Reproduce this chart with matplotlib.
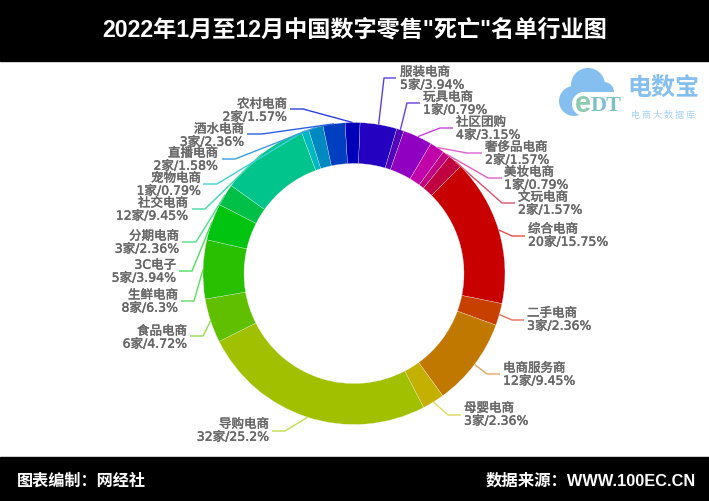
# -*- coding: utf-8 -*-
import math
import matplotlib
matplotlib.use('Agg')
import matplotlib.pyplot as plt
import matplotlib.patheffects as pe
from matplotlib.patches import Circle, Rectangle

plt.rcParams['font.family'] = ['Liberation Sans', 'Noto Sans CJK SC', 'DejaVu Sans']

names = ['服装电商', '玩具电商', '社区团购', '奢侈品电商', '美妆电商', '文玩电商', '综合电商',
         '二手电商', '电商服务商', '母婴电商', '导购电商', '食品电商', '生鲜电商', '3C电子',
         '分期电商', '社交电商', '宠物电商', '直播电商', '酒水电商', '农村电商']
counts = [5, 1, 4, 2, 1, 2, 20, 3, 12, 3, 32, 6, 8, 5, 3, 12, 1, 2, 3, 2]
shares = ['3.94', '0.79', '3.15', '1.57', '0.79', '1.57', '15.75', '2.36', '9.45', '2.36',
          '25.2', '4.72', '6.3', '3.94', '2.36', '9.45', '0.79', '1.58', '2.36', '1.57']
colors = ['#2400c0', '#5000b8', '#9000c0', '#c000a8', '#c00080', '#c00040', '#c80000',
          '#c84000', '#c07800', '#c4b000', '#a0c000', '#60c000', '#28c000', '#00c410',
          '#00c048', '#00c48c', '#00b8c0', '#0088c0', '#0040c0', '#0000b8']
line_colors = ['#5a3fe0', '#6a3fe0', '#c83fe0', '#e060d0', '#e060c0', '#e0506f', '#e04f4f',
               '#e0705a', '#e0a860', '#e0d860', '#c0dc50', '#90dc50', '#60dc60', '#50dc60',
               '#50dc88', '#40d8a8', '#40d0d8', '#3a9ee0', '#2a60e0', '#2a40e0']

# label layout, pixels: elbow x, elbow/end y, end x, text x, text y
elbow_x = [384, 407, 440, 467, 488, 502, 512, 512, 487, 448, 285, 203, 194, 192, 196, 205, 217, 235, 262, 303]
elbow_y = [79, 104, 129, 154, 179, 204, 237, 321, 375, 416, 432, 337, 302, 272, 243, 210, 185, 160, 135, 110]
end_x = [396, 420, 453, 482, 502, 515, 525, 524, 500, 461, 272, 190, 181, 179, 182, 192, 203, 222, 247, 290]
text_x = [400, 423, 456, 485, 504, 518, 528, 527, 503, 464, 269, 187, 178, 176, 179, 188, 201, 218, 244, 287]
text_y = [78, 103, 128, 153, 178, 203, 235, 319, 374, 414, 430, 337, 301, 271, 242, 209, 184, 159, 135, 110]

cx, cy = 354, 274.5
radius = 151
ring = 41

fig = plt.figure(figsize=(7.09, 5.02), dpi=100)
ax = fig.add_axes([0, 0, 1, 1])

# y axis is flipped below, so angles run clockwise on screen
wedges, _ = ax.pie(counts, colors=colors, center=(cx, cy), radius=radius, startangle=-87.7,
                   counterclock=True, frame=True,
                   wedgeprops=dict(width=ring, edgecolor='#f4f4f4', linewidth=0.2))

ax.set_xlim(0, 709)
ax.set_ylim(502, 0)
ax.set_aspect('equal')
ax.axis('off')

label_font = ['DejaVu Sans', 'Noto Sans CJK SC']
for i, w in enumerate(wedges):
    ang = math.radians((w.theta1 + w.theta2) / 2)
    x0 = cx + radius * math.cos(ang)
    y0 = cy + radius * math.sin(ang)
    ax.plot([x0, elbow_x[i], end_x[i]], [y0, elbow_y[i], elbow_y[i]],
            color=line_colors[i], lw=1.0, solid_capstyle='butt', zorder=1)
    ha = 'left' if text_x[i] > cx else 'right'
    t = ax.text(text_x[i], text_y[i] + 1.7, '%s\n%d家/%s%%' % (names[i], counts[i], shares[i]),
                ha=ha, va='center', ma=ha, fontsize=9, color='#666666', family=label_font,
                linespacing=1.0)
    # the original labels are smeared bold
    t.set_path_effects([pe.withStroke(linewidth=0.3, foreground='#666666')])

# header and footer bands
ax.add_patch(Rectangle((0, 0), 709, 62, color='black', zorder=3))
ax.add_patch(Rectangle((0, 458), 709, 44, color='black', zorder=3))
ax.text(354.5, 30, '2022年1月至12月中国数字零售"死亡"名单行业图', color='white', fontsize=16.7,
        fontweight='bold', ha='center', va='center', zorder=4)
ax.text(17, 481, '图表编制：网经社', color='white', fontsize=11.6, fontweight='bold',
        ha='left', va='center', zorder=4)
ax.text(486, 481, '数据来源：WWW.100EC.CN', color='white', fontsize=11.8, fontweight='bold',
        ha='left', va='center', zorder=4)

# logo
cloud = '#85bff0'
for (lx, ly, lr) in [(574, 102, 15), (588, 86, 17), (604, 93, 10)]:
    ax.add_patch(Circle((lx, ly), lr, color=cloud, lw=0, zorder=2))
ax.add_patch(Rectangle((575, 98), 30, 18, color=cloud, lw=0, zorder=2))
ax.add_patch(Circle((584, 105), 12, color='white', lw=0, zorder=2))
ax.add_patch(Rectangle((584, 93), 38, 28, color='white', lw=0, zorder=2))
ax.text(583, 104, 'e', color='#8ccbb0', fontsize=21, fontweight='bold', ha='center', va='center', zorder=3)
ax.text(606, 106, 'DT', color='#7cc0c8', fontsize=16, fontweight='bold', ha='center', va='center', zorder=3,
        family=['Liberation Serif'])
ax.text(663, 88, '电数宝', color='#85bff0', fontsize=17.3, fontweight='bold', ha='center', va='center', zorder=3)
ax.text(663, 115, '电 商 大 数 据 库', color='#a8d2f2', fontsize=6.5, ha='center', va='center', zorder=3,
        family=['Noto Sans CJK SC'])

fig.savefig('out.png', dpi=100)
